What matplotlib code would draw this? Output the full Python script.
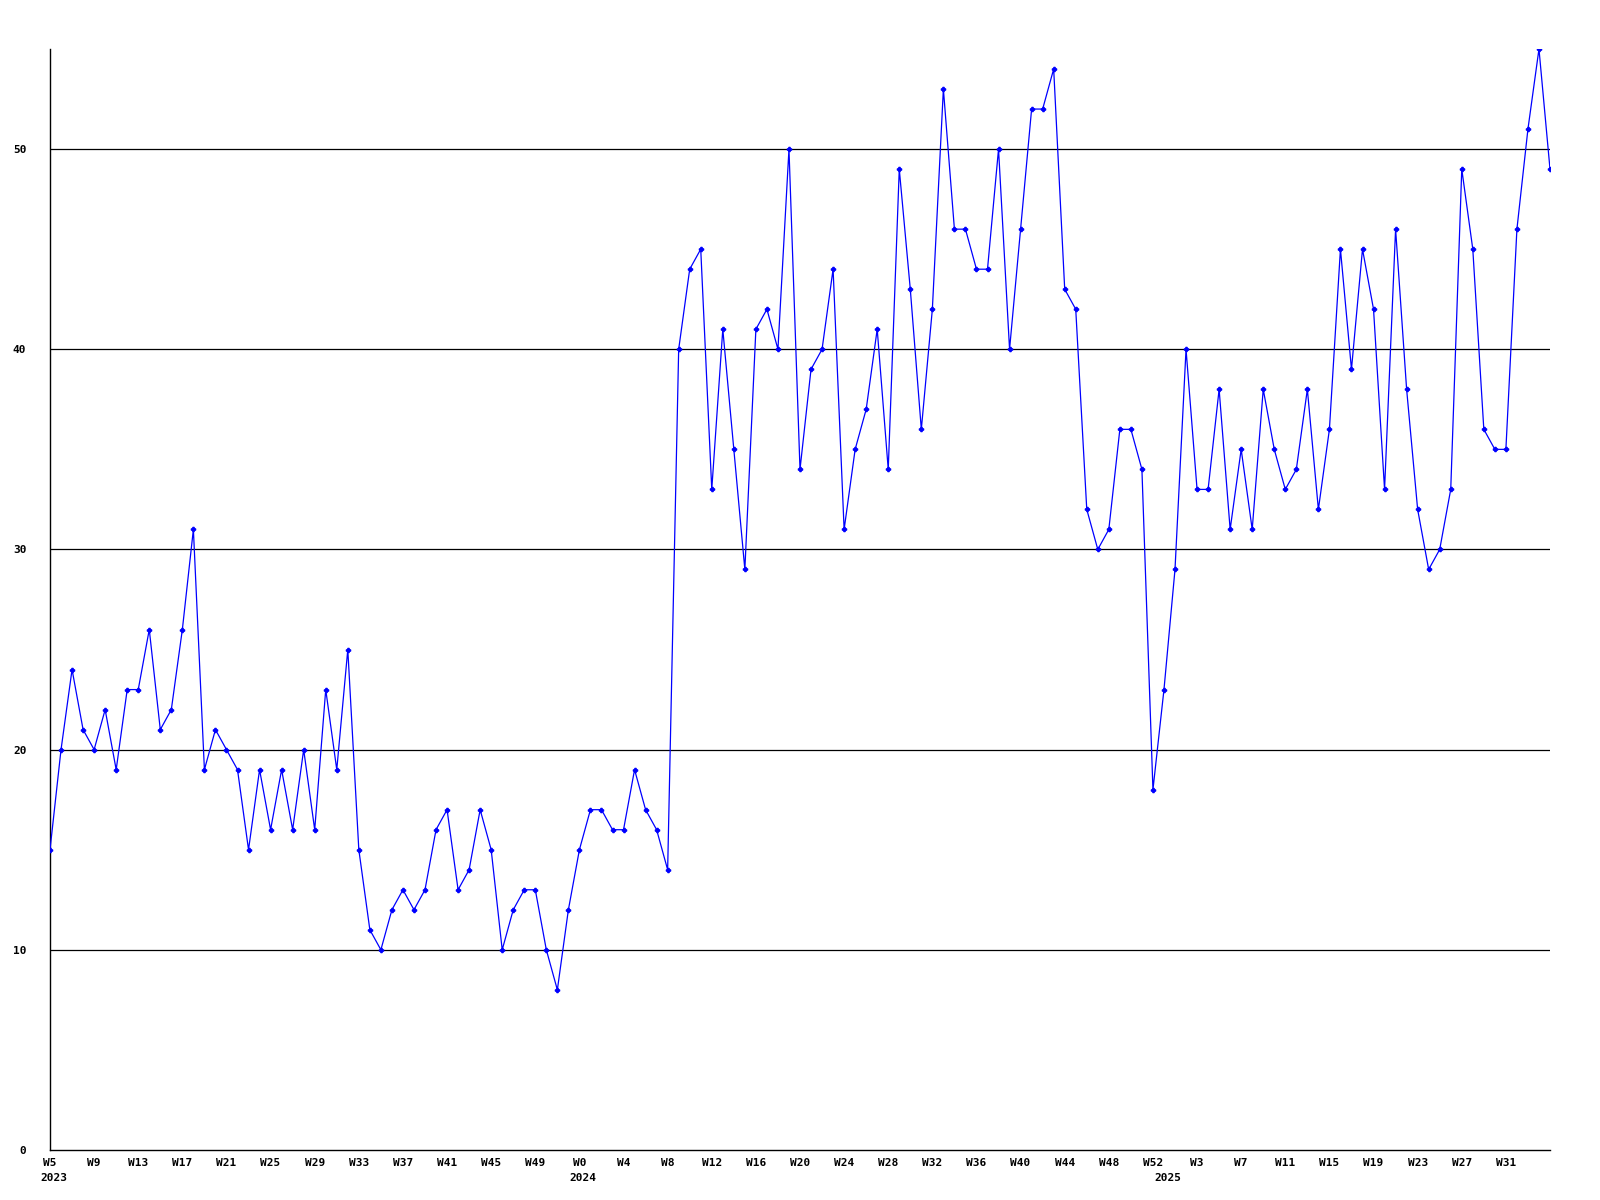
import matplotlib
matplotlib.use('Agg')
import matplotlib.pyplot as plt

# weekly values, 2023 W5 .. 2025 W35
counts = [15, 20, 24, 21, 20, 22, 19, 23, 23, 26,
          21, 22, 26, 31, 19, 21, 20, 19, 15, 19,
          16, 19, 16, 20, 16, 23, 19, 25, 15, 11,
          10, 12, 13, 12, 13, 16, 17, 13, 14, 17,
          15, 10, 12, 13, 13, 10, 8, 12, 15, 17,
          17, 16, 16, 19, 17, 16, 14, 40, 44, 45,
          33, 41, 35, 29, 41, 42, 40, 50, 34, 39,
          40, 44, 31, 35, 37, 41, 34, 49, 43, 36,
          42, 53, 46, 46, 44, 44, 50, 40, 46, 52,
          52, 54, 43, 42, 32, 30, 31, 36, 36, 34,
          18, 23, 29, 40, 33, 33, 38, 31, 35, 31,
          38, 35, 33, 34, 38, 32, 36, 45, 39, 45,
          42, 33, 46, 38, 32, 29, 30, 33, 49, 45,
          36, 35, 35, 46, 51, 55, 49]

years = [2023, 2024, 2025]
first_week = [5, 0, 0]
last_week = [52, 52, 35]

# build week list (year, week) for every sample
weeks = []
for y, w0, w1 in zip(years, first_week, last_week):
    for w in range(w0, w1 + 1):
        weeks.append((y, w))

x = list(range(len(counts)))
font = {'family': 'DejaVu Sans Mono', 'weight': 'bold', 'size': 8}

fig = plt.figure(figsize=(16, 12), dpi=100)
ax = fig.add_axes([50/1600, 50/1200, 1500/1600, 1101/1200])

for v in [10, 20, 30, 40, 50]:
    ax.axhline(v, color='black', lw=0.9, zorder=1)

ax.plot(x, counts, color='#0000ff', lw=0.9, marker='P', ms=3,
        mec='#0000ff', mfc='#0000ff', zorder=3)

ax.set_xlim(0, len(counts) - 1)
ax.set_ylim(0, 55)

ax.set_yticks([0, 10, 20, 30, 40, 50])
ax.set_yticklabels(['0', '10', '20', '30', '40', '50'], fontdict=font)

# every 4th week, no label on the last sample at the edge
ticks = [t for t in x[::4] if t < len(counts) - 1]
ax.set_xticks(ticks)
ax.set_xticklabels(['W%d' % weeks[i][1] for i in ticks], fontdict=font)
ax.tick_params(axis='both', length=0)
ax.tick_params(axis='y', pad=17)
ax.tick_params(axis='x', pad=6)

# year under the first week of each year
seen = set()
for i, (y, w) in enumerate(weeks):
    if y not in seen:
        seen.add(y)
        ax.annotate(str(y), xy=(i, 0), xycoords='data',
                    xytext=(-10, -28), textcoords='offset pixels',
                    ha='left', va='center', **font)

ax.spines['top'].set_visible(False)
ax.spines['right'].set_visible(False)
ax.spines['left'].set_linewidth(1)
ax.spines['bottom'].set_linewidth(1)

fig.savefig('out.png', dpi=100)
